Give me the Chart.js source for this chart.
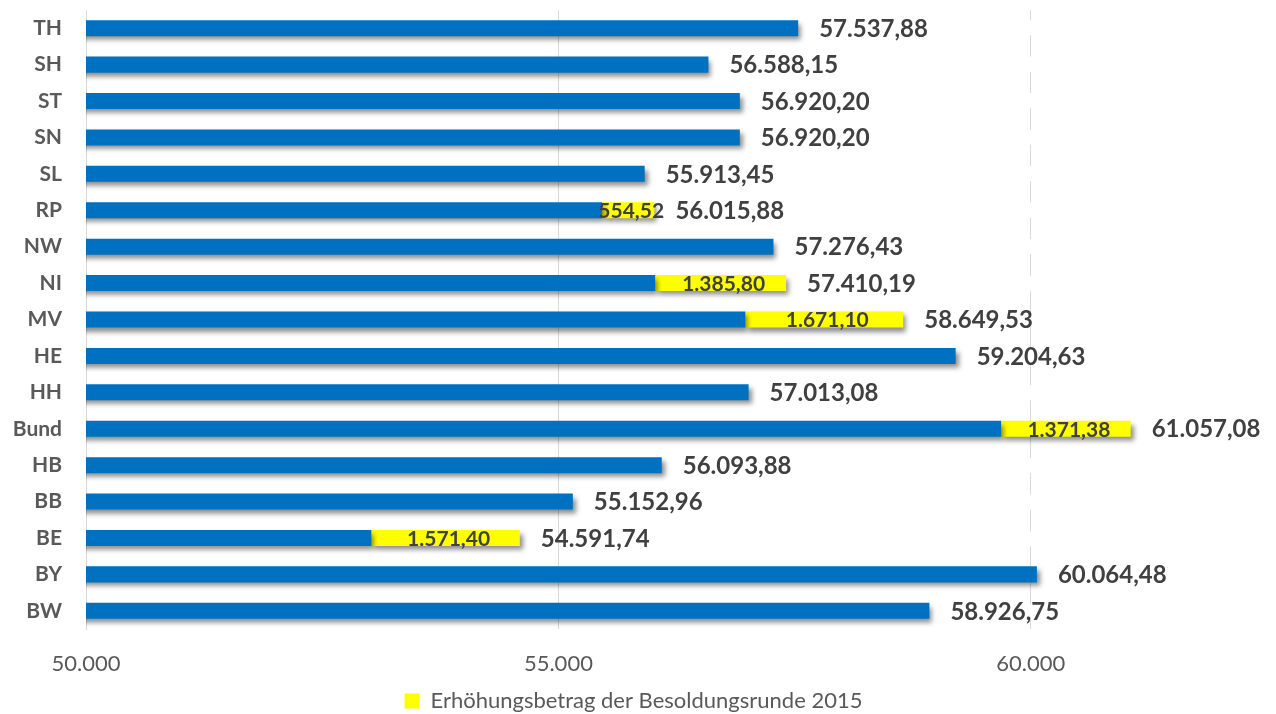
<!DOCTYPE html>
<html lang="de">
<head>
<meta charset="utf-8">
<title>Besoldung</title>
<script src="https://cdn.jsdelivr.net/npm/chart.js@4.4.1/dist/chart.umd.min.js"></script>
<style>
  html, body { margin: 0; padding: 0; background: #fff; }
  #wrap { width: 1276px; height: 714px; }
</style>
</head>
<body>
<div id="wrap"><canvas id="besoldung-chart"></canvas></div>
<script>
// Kategorien von oben nach unten
const laender = ['TH', 'SH', 'ST', 'SN', 'SL', 'RP', 'NW', 'NI', 'MV', 'HE', 'HH', 'Bund', 'HB', 'BB', 'BE', 'BY', 'BW'];

// Betrag vor der Erhoehung (blauer Balken)
const basis = [57537.88, 56588.15, 56920.20, 56920.20, 55913.45, 55461.36, 57276.43, 56024.39, 56978.43,
  59204.63, 57013.08, 59685.70, 56093.88, 55152.96, 53020.34, 60064.48, 58926.75];

// Erhoehungsbetrag der Besoldungsrunde 2015 (gelb)
const erhoehung = [null, null, null, null, null, 554.52, null, 1385.80, 1671.10,
  null, null, 1371.38, null, null, 1571.40, null, null];

// Gesamtbetrag (Beschriftung am Balkenende)
const gesamt = [57537.88, 56588.15, 56920.20, 56920.20, 55913.45, 56015.88, 57276.43, 57410.19, 58649.53,
  59204.63, 57013.08, 61057.08, 56093.88, 55152.96, 54591.74, 60064.48, 58926.75];

const xTicks = [50000, 55000, 60000];

function fmtDe(v, dec) {
  const parts = v.toFixed(dec).split('.');
  const ganz = parts[0].replace(/\B(?=(\d{3})+(?!\d))/g, '.');
  return parts[1] ? ganz + ',' + parts[1] : ganz;
}

const labelPlugin = {
  id: 'labels',
  beforeDatasetsDraw(chart) {
    const c = chart.ctx;
    c.save();
    c.shadowColor = 'rgba(0,0,0,0.45)';
    c.shadowBlur = 5;
    c.shadowOffsetX = 3;
    c.shadowOffsetY = 4;
  },
  afterDatasetsDraw(chart) {
    const c = chart.ctx;
    c.restore();
    const x = chart.scales.x;
    const blue = chart.getDatasetMeta(0);
    const yellow = chart.getDatasetMeta(1);
    c.save();
    c.fillStyle = '#404040';
    c.textBaseline = 'middle';
    gesamt.forEach(function (val, i) {
      const y = blue.data[i].y + 1;
      c.font = 'bold 24px Lato';
      c.textAlign = 'left';
      c.fillText(fmtDe(val, 2), x.getPixelForValue(val) + 21, y);
      if (erhoehung[i] != null) {
        const bar = yellow.data[i];
        c.font = 'bold 21px Lato';
        c.textAlign = 'center';
        c.fillText(fmtDe(erhoehung[i], 2), (bar.x + bar.base) / 2 + 3, y);
      }
    });
    c.restore();
  }
};

document.addEventListener('DOMContentLoaded', function () {
  const ctx = document.getElementById('besoldung-chart').getContext('2d');

  new Chart(ctx, {
    type: 'bar',
    data: {
      labels: laender,
      datasets: [
        {
          label: 'Besoldung',
          data: basis,
          backgroundColor: '#0070C0',
          categoryPercentage: 1,
          barPercentage: 0.44
        },
        {
          label: 'Erhöhungsbetrag der Besoldungsrunde 2015',
          data: erhoehung,
          backgroundColor: '#FFFF00',
          categoryPercentage: 1,
          barPercentage: 0.44
        }
      ]
    },
    options: {
      indexAxis: 'y',
      responsive: true,
      maintainAspectRatio: false,
      animation: false,
      layout: { padding: { top: 10, right: 9, bottom: -8, left: 0 } },
      scales: {
        x: {
          stacked: true,
          min: 50000,
          max: 62500,
          afterFit: function (scale) { scale.height = 59; },
          afterBuildTicks: function (scale) {
            scale.ticks = xTicks.map(function (v) { return { value: v }; });
          },
          ticks: {
            padding: 22,
            color: '#595959',
            font: { family: 'Lato', size: 22 },
            callback: function (v) { return fmtDe(v, 0); }
          },
          grid: {
            color: '#d9d9d9',
            drawTicks: false
          },
          border: {
            display: false,
            dash: function (c) { return (c.tick && c.tick.value === 60000) ? [21.5, 15] : []; },
            dashOffset: function (c) { return (c.tick && c.tick.value === 60000) ? 11.3 : 0; }
          }
        },
        y: {
          stacked: true,
          afterFit: function (scale) {
            scale.width = 86;
            scale.paddingTop = 0;
            scale.paddingBottom = 0;
          },
          ticks: {
            padding: 24,
            color: '#595959',
            font: { family: 'Lato', size: 21, weight: 'bold' }
          },
          grid: { display: false, drawTicks: false },
          border: { display: true, color: '#d9d9d9' }
        }
      },
      plugins: {
        legend: {
          position: 'bottom',
          labels: {
            filter: function (item) { return item.datasetIndex === 1; },
            boxWidth: 15,
            boxHeight: 15,
            padding: 2,
            color: '#595959',
            font: { family: 'Lato', size: 22, lineHeight: 1 }
          }
        },
        tooltip: { enabled: false }
      }
    },
    plugins: [labelPlugin]
  });
});
</script>
</body>
</html>
